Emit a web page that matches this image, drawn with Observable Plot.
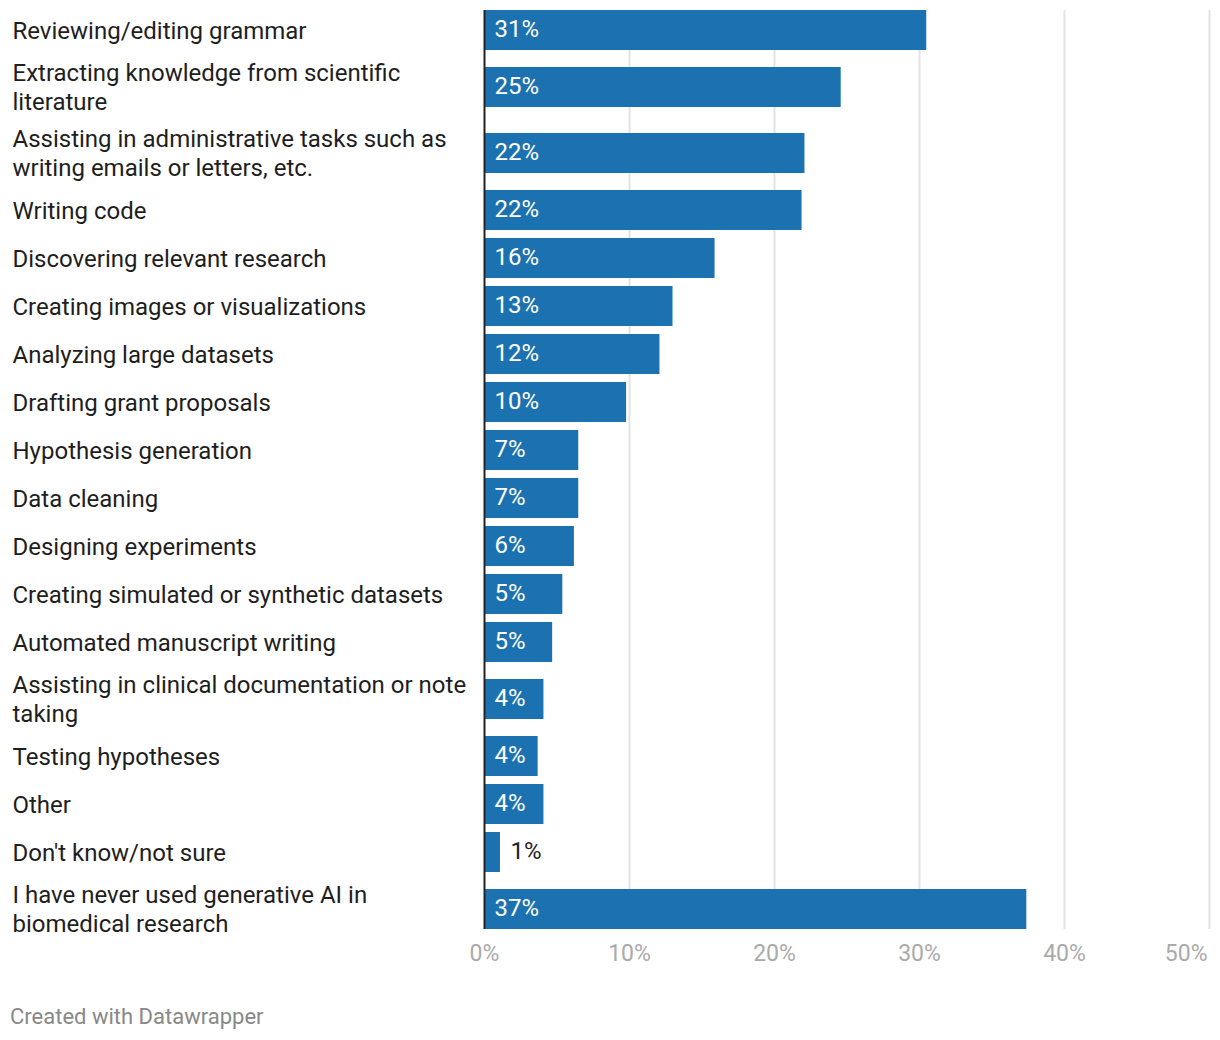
<!DOCTYPE html>
<html>
<head>
<meta charset="utf-8">
<script src="https://cdn.jsdelivr.net/npm/d3@7"></script>
<script src="https://cdn.jsdelivr.net/npm/@observablehq/plot@0.6"></script>
<style>
  html, body { margin: 0; padding: 0; background: #fff; }
  body { width: 1220px; font-family: Roboto, sans-serif; }
  #chart svg { display: block; }
  .footer { font-family: Roboto, sans-serif; font-size: 22px; line-height: 26px; color: #888; margin: 29px 0 0 10px; }
</style>
</head>
<body>
<div id="chart"></div>
<div class="footer">Created with Datawrapper</div>
<script>
const categories = [
  "Reviewing/editing grammar",
  "Extracting knowledge from scientific\nliterature",
  "Assisting in administrative tasks such as\nwriting emails or letters, etc.",
  "Writing code",
  "Discovering relevant research",
  "Creating images or visualizations",
  "Analyzing large datasets",
  "Drafting grant proposals",
  "Hypothesis generation",
  "Data cleaning",
  "Designing experiments",
  "Creating simulated or synthetic datasets",
  "Automated manuscript writing",
  "Assisting in clinical documentation or note\ntaking",
  "Testing hypotheses",
  "Other",
  "Don't know/not sure",
  "I have never used generative AI in\nbiomedical research"
];
const values = [30.5, 24.6, 22.1, 21.9, 15.9, 13.0, 12.1, 9.8, 6.5, 6.5, 6.2, 5.4, 4.7, 4.1, 3.7, 4.1, 1.1, 37.4];
const xTicks = [0, 10, 20, 30, 40, 50];

// layout: rows grow with the number of label lines
const BAR = 40;
let cursor = 0;
const data = categories.map((label, i) => {
  const lines = label.split("\n").length;
  const h = lines > 1 ? 66 : 48;
  const c = cursor + h / 2;
  cursor += h;
  return {label, value: values[i], c, text: Math.round(values[i]) + "%"};
});
const total = cursor;
const gridTop = data[0].c - BAR / 2;
const gridBottom = data[data.length - 1].c + BAR / 2;
const inside = data.filter(d => d.value >= 3);
const outside = data.filter(d => d.value < 3);

const chart = Plot.plot({
  width: 1220,
  height: 975,
  marginLeft: 484,
  marginRight: 11,
  marginTop: 6,
  marginBottom: 33,
  style: {fontFamily: "Roboto, sans-serif", background: "#fff"},
  x: {domain: [0, 50], range: [484, 1209], axis: null},
  y: {type: "linear", domain: [0, total], range: [6, 6 + total], axis: null},
  marks: [
    Plot.ruleX(xTicks.filter(t => t > 0), {x: d => d, y1: gridTop, y2: gridBottom, stroke: "#e3e3e3", strokeWidth: 2}),
    Plot.rect(data, {x1: 0, x2: "value", y1: d => d.c - BAR / 2, y2: d => d.c + BAR / 2, fill: "#1c72b0"}),
    Plot.ruleX([0], {y1: gridTop, y2: gridBottom, stroke: "#222", strokeWidth: 2}),
    Plot.text(inside, {x: 0, y: "c", text: "text", dx: 10, dy: -1, textAnchor: "start", fill: "#fff", fontSize: 24}),
    Plot.text(outside, {x: "value", y: "c", text: "text", dx: 10, dy: -1, textAnchor: "start", fill: "#222", fontSize: 24}),
    Plot.text(data, {x: 0, y: "c", text: "label", dx: -472, dy: -1, textAnchor: "start", fill: "#1e1e1e", fontSize: 24, lineHeight: 1.17}),
    Plot.text(xTicks.filter(t => t < 50), {x: d => d, y: total, dy: 11, text: d => d + "%", fill: "#aaa", fontSize: 23}),
    Plot.text(xTicks.filter(t => t === 50), {x: d => d, y: total, dy: 11, dx: -2, text: d => d + "%", textAnchor: "end", fill: "#aaa", fontSize: 23})
  ]
});
document.getElementById("chart").appendChild(chart);
</script>
</body>
</html>
